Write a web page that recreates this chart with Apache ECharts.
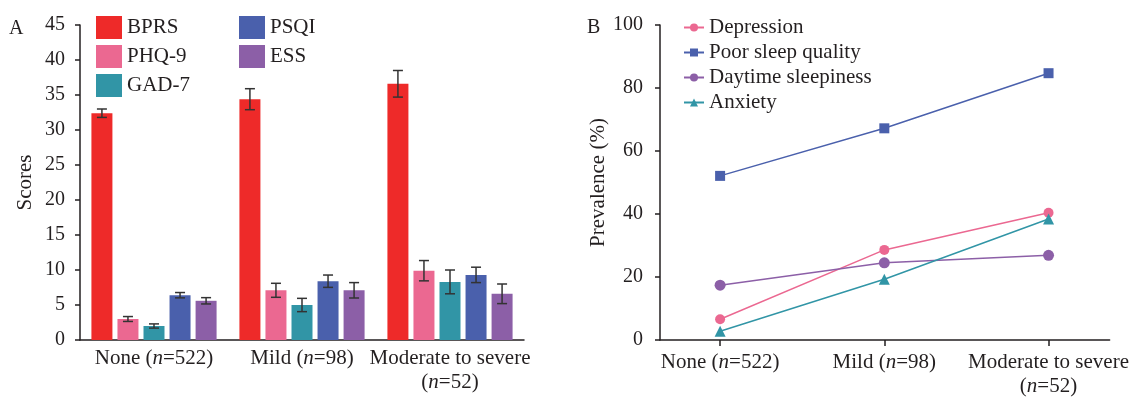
<!DOCTYPE html>
<html>
<head>
<meta charset="utf-8">
<script src="https://cdn.jsdelivr.net/npm/echarts@6/dist/echarts.min.js"></script>
<style>
  html, body { margin: 0; padding: 0; background: #fff; }
  #main { width: 1132px; height: 398px; }
</style>
</head>
<body>
<div id="main"></div>
<script>
// categories (shared by both panels)
var groups = ['None (n=522)', 'Mild (n=98)', 'Moderate to severe\n(n=52)'];

// panel A : mean scores and error half-widths
var scoreNames = ['BPRS', 'PHQ-9', 'GAD-7', 'PSQI', 'ESS'];
var bprs = [32.4, 34.4, 36.6];
var phq9 = [3.0, 7.1, 9.9];
var gad7 = [2.0, 5.0, 8.3];
var psqi = [6.4, 8.4, 9.3];
var ess = [5.6, 7.1, 6.6];
var bprsErr = [0.6, 1.5, 1.9];
var phq9Err = [0.35, 1.0, 1.45];
var gad7Err = [0.3, 0.95, 1.7];
var psqiErr = [0.38, 0.88, 1.1];
var essErr = [0.45, 1.1, 1.4];

// panel B : prevalence (%)
var prevNames = ['Depression', 'Poor sleep quality', 'Daytime sleepiness', 'Anxiety'];
var depression = [6.6, 28.6, 40.4];
var poorSleep = [52.1, 67.2, 84.7];
var sleepiness = [17.4, 24.5, 26.9];
var anxiety = [2.8, 19.3, 38.4];

var font = '"Liberation Serif", "Times New Roman", serif';
var ink = '#231f20';
var barColors = ['#ee2a29', '#eb6891', '#3195a6', '#4a60ac', '#8c5fa7'];
var lineColors = ['#eb6891', '#4a60ac', '#8c5fa7', '#3195a6'];

var barW = 21, barGapPx = 5.04;

function fmtGroup(v) {
  return String(v).replace('n=', '{i|n}=');
}

var scoreData = [bprs, phq9, gad7, psqi, ess];
var errData = [bprsErr, phq9Err, gad7Err, psqiErr, essErr];

var series = [];
scoreNames.forEach(function (name, k) {
  series.push({
    name: name,
    type: 'bar',
    xAxisIndex: 0,
    yAxisIndex: 0,
    barWidth: barW,
    barGap: '24%',
    itemStyle: { color: barColors[k] },
    data: scoreData[k]
  });
});
// error bars, drawn over the bars
scoreNames.forEach(function (name, k) {
  var off = (k - 2) * (barW + barGapPx);
  series.push({
    type: 'custom',
    xAxisIndex: 0,
    yAxisIndex: 0,
    z: 10,
    silent: true,
    data: scoreData[k].map(function (v, i) { return [i, v, errData[k][i]]; }),
    renderItem: function (params, api) {
      var c = api.value(0), m = api.value(1), e = api.value(2);
      var hi = api.coord([c, m + e]);
      var lo = api.coord([c, m - e]);
      var x = hi[0] + off;
      var hw = 5;
      var st = { stroke: '#333', lineWidth: 1.5 };
      return {
        type: 'group',
        children: [
          { type: 'line', shape: { x1: x, y1: hi[1], x2: x, y2: lo[1] }, style: st },
          { type: 'line', shape: { x1: x - hw, y1: hi[1], x2: x + hw, y2: hi[1] }, style: st },
          { type: 'line', shape: { x1: x - hw, y1: lo[1], x2: x + hw, y2: lo[1] }, style: st }
        ]
      };
    }
  });
});

var prevData = [depression, poorSleep, sleepiness, anxiety];
var prevSymbols = ['circle', 'rect', 'circle', 'triangle'];
var prevSizes = [10, 10, 11, 11];
prevNames.forEach(function (name, k) {
  series.push({
    name: name,
    type: 'line',
    xAxisIndex: 1,
    yAxisIndex: 1,
    symbol: prevSymbols[k],
    symbolSize: prevSizes[k],
    lineStyle: { width: 1.5, color: lineColors[k] },
    itemStyle: { color: lineColors[k] },
    data: prevData[k].map(function (v, i) { return [i, v]; })
  });
});

var axisLineStyle = { color: ink, width: 1.5 };
var labelRich = {
  i: { fontStyle: 'italic', fontFamily: font, fontSize: 21, color: ink, lineHeight: 24 }
};

var option = {
  animation: false,
  title: [
    { text: 'A', left: 4, top: 14, textStyle: { fontFamily: font, fontSize: 20, fontWeight: 'normal', color: ink } },
    { text: 'B', left: 582, top: 13, textStyle: { fontFamily: font, fontSize: 20, fontWeight: 'normal', color: ink } }
  ],
  legend: [
    {
      data: scoreNames.slice(0, 3),
      orient: 'vertical',
      left: 91, top: 11,
      itemWidth: 26, itemHeight: 23, itemGap: 6,
      icon: 'rect',
      textStyle: { fontFamily: font, fontSize: 21, color: ink }
    },
    {
      data: scoreNames.slice(3),
      orient: 'vertical',
      left: 234, top: 11,
      itemWidth: 26, itemHeight: 23, itemGap: 6,
      icon: 'rect',
      textStyle: { fontFamily: font, fontSize: 21, color: ink }
    },
    {
      data: prevNames,
      orient: 'vertical',
      left: 678, top: 12,
      itemWidth: 20, itemHeight: 10, itemGap: 4,
      textStyle: { fontFamily: font, fontSize: 21, color: ink }
    }
  ],
  grid: [
    { left: 80, top: 25, right: 608, bottom: 58 },
    { left: 660, top: 25, right: 22, bottom: 58 }
  ],
  xAxis: [
    {
      gridIndex: 0,
      type: 'category',
      data: groups,
      axisLine: { lineStyle: axisLineStyle },
      axisTick: { show: false },
      axisLabel: {
        margin: 6, fontFamily: font, fontSize: 21, color: ink, lineHeight: 24,
        interval: 0, formatter: fmtGroup, rich: labelRich
      },
      splitLine: { show: false }
    },
    {
      gridIndex: 1,
      type: 'value',
      min: -0.366, max: 2.372,
      axisLine: { onZero: false, lineStyle: axisLineStyle },
      axisTick: { customValues: [0, 1, 2], length: 6, lineStyle: axisLineStyle },
      axisLabel: {
        customValues: [0, 1, 2], margin: 10, fontFamily: font, fontSize: 21, color: ink, lineHeight: 24,
        formatter: function (v) { return fmtGroup(groups[Math.round(v)]); },
        rich: labelRich
      },
      splitLine: { show: false }
    }
  ],
  yAxis: [
    {
      gridIndex: 0,
      type: 'value',
      min: 0, max: 45, interval: 5,
      name: 'Scores',
      nameLocation: 'middle',
      nameGap: 44,
      nameTextStyle: { fontFamily: font, fontSize: 21, color: ink },
      axisLine: { show: true, lineStyle: axisLineStyle },
      axisTick: { show: true, length: 5, lineStyle: axisLineStyle },
      axisLabel: { margin: 15, fontFamily: font, fontSize: 20, color: ink },
      splitLine: { show: false }
    },
    {
      gridIndex: 1,
      type: 'value',
      min: 0, max: 100, interval: 20,
      name: 'Prevalence (%)',
      nameLocation: 'middle',
      nameGap: 51,
      nameTextStyle: { fontFamily: font, fontSize: 21, color: ink },
      axisLine: { show: true, onZero: false, lineStyle: axisLineStyle },
      axisTick: { show: true, length: 5, lineStyle: axisLineStyle },
      axisLabel: { margin: 17, fontFamily: font, fontSize: 20, color: ink },
      splitLine: { show: false }
    }
  ],
  series: series
};

var chart = echarts.init(document.getElementById('main'));
chart.setOption(option);
</script>
</body>
</html>
